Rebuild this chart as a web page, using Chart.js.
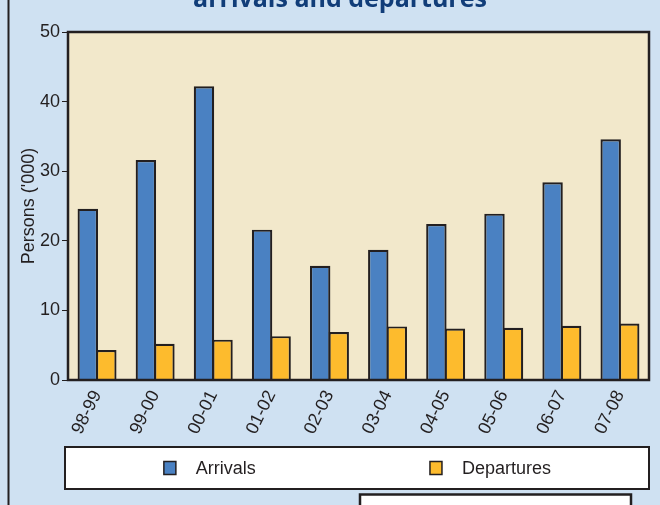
<!DOCTYPE html>
<html>
<head>
<meta charset="utf-8">
<script src="https://cdn.jsdelivr.net/npm/chart.js@4/dist/chart.umd.min.js"></script>
<style>
  html, body { margin: 0; padding: 0; background: #cfe1f2; overflow: hidden; }
  #c { display: block; }
</style>
</head>
<body>
<canvas id="c" width="660" height="505"></canvas>
<script>
const categories = ['98-99','99-00','00-01','01-02','02-03','03-04','04-05','05-06','06-07','07-08'];
const arrivals   = [24.6, 31.6, 42.2, 21.6, 16.4, 18.7, 22.4, 23.9, 28.4, 34.6];
const departures = [4.3, 5.2, 5.8, 6.3, 6.9, 7.7, 7.4, 7.5, 7.8, 8.1];
const seriesNames = ['Arrivals', 'Departures'];
const titleText = 'arrivals and departures';
const yTitle = "Persons ('000)";

const COL_BG = '#cfe1f2';
const COL_PLOT = '#f2e8cb';
const COL_BLUE = '#4a81c2';
const COL_ORANGE = '#fdbb2d';
const COL_INK = '#231f20';
const COL_TITLE = '#113d79';

Chart.defaults.font.family = "'Liberation Sans', Arial, sans-serif";
Chart.defaults.color = COL_INK;

const frame = {
  id: 'frame',
  beforeDraw(chart) {
    const ctx = chart.ctx, a = chart.chartArea;
    ctx.save();
    ctx.fillStyle = COL_BG;
    ctx.fillRect(0, 0, chart.width, chart.height);
    ctx.strokeStyle = COL_INK;
    ctx.lineWidth = 2;
    ctx.beginPath();
    ctx.moveTo(8.5, 0);
    ctx.lineTo(8.5, chart.height);
    ctx.stroke();
    ctx.fillStyle = COL_PLOT;
    ctx.fillRect(a.left, a.top, a.right - a.left, a.bottom - a.top);
    ctx.restore();
  },
  afterDatasetsDraw(chart) {
    const ctx = chart.ctx, a = chart.chartArea;
    ctx.save();
    ctx.strokeStyle = COL_INK;
    ctx.lineWidth = 2.5;
    ctx.strokeRect(a.left, a.top, a.right - a.left, a.bottom - a.top);
    ctx.restore();
  },
  afterDraw(chart) {
    const ctx = chart.ctx, a = chart.chartArea;
    const xs = chart.scales.x;
    // legend box
    const top = xs.bottom, h = 42;
    const left = a.left - 3, right = a.right;
    ctx.save();
    ctx.fillStyle = '#ffffff';
    ctx.fillRect(left, top, right - left, h);
    ctx.strokeStyle = COL_INK;
    ctx.lineWidth = 2;
    ctx.strokeRect(left, top, right - left, h);
    const cols = [0.165, 0.623];
    const cy = top + h / 2;
    ctx.font = "18px 'Liberation Sans', Arial, sans-serif";
    ctx.textBaseline = 'middle';
    ctx.textAlign = 'left';
    chart.data.datasets.forEach((ds, i) => {
      const x = a.left + cols[i] * (a.right - a.left);
      ctx.fillStyle = ds.backgroundColor;
      ctx.fillRect(x, cy - 6.5, 12, 13);
      ctx.lineWidth = 1.5;
      ctx.strokeStyle = COL_INK;
      ctx.strokeRect(x, cy - 6.5, 12, 13);
      ctx.fillStyle = COL_INK;
      ctx.fillText(ds.label, x + 32, cy + 1);
    });
    // lower box (cut off)
    ctx.fillStyle = '#ffffff';
    ctx.fillRect(360, top + h + 5.5, 271, 40);
    ctx.lineWidth = 2.5;
    ctx.strokeStyle = COL_INK;
    ctx.strokeRect(360, top + h + 5.5, 271, 40);
    ctx.restore();
  }
};

new Chart(document.getElementById('c'), {
  type: 'bar',
  data: {
    labels: categories,
    datasets: [
      { label: seriesNames[0], data: arrivals, backgroundColor: COL_BLUE, borderColor: COL_INK, borderWidth: 2.2 },
      { label: seriesNames[1], data: departures, backgroundColor: COL_ORANGE, borderColor: COL_INK, borderWidth: 2.2 }
    ]
  },
  options: {
    responsive: false,
    animation: false,
    devicePixelRatio: 1,
    layout: { padding: { left: 31, right: 11, top: 0, bottom: 58 } },
    datasets: { bar: { categoryPercentage: 0.638, barPercentage: 1.103, inflateAmount: 0 } },
    plugins: {
      legend: { display: false },
      tooltip: { enabled: false },
      title: {
        display: true,
        text: titleText,
        color: COL_TITLE,
        font: { family: "'Open Sans', 'Liberation Sans', sans-serif", size: 25, weight: 'bold' },
        padding: { top: -15.2, bottom: 17.2 }
      }
    },
    scales: {
      x: {
        grid: { display: false, drawTicks: false },
        border: { display: false },
        ticks: { font: { size: 18 }, color: COL_INK, minRotation: 64, maxRotation: 64, padding: 7 },
        afterFit(s) { s.height = 67; }
      },
      y: {
        min: 0, max: 50,
        grid: { drawOnChartArea: false, drawTicks: true, tickLength: 6, color: COL_INK, lineWidth: 1 },
        border: { display: false },
        ticks: { stepSize: 10, font: { size: 18 }, color: COL_INK, padding: 2 },
        title: { display: true, text: yTitle, font: { size: 18 }, color: COL_INK, padding: { top: -12.3, bottom: 0 } },
        afterFit(s) { s.width = 37; }
      }
    }
  },
  plugins: [frame]
});
</script>
</body>
</html>
